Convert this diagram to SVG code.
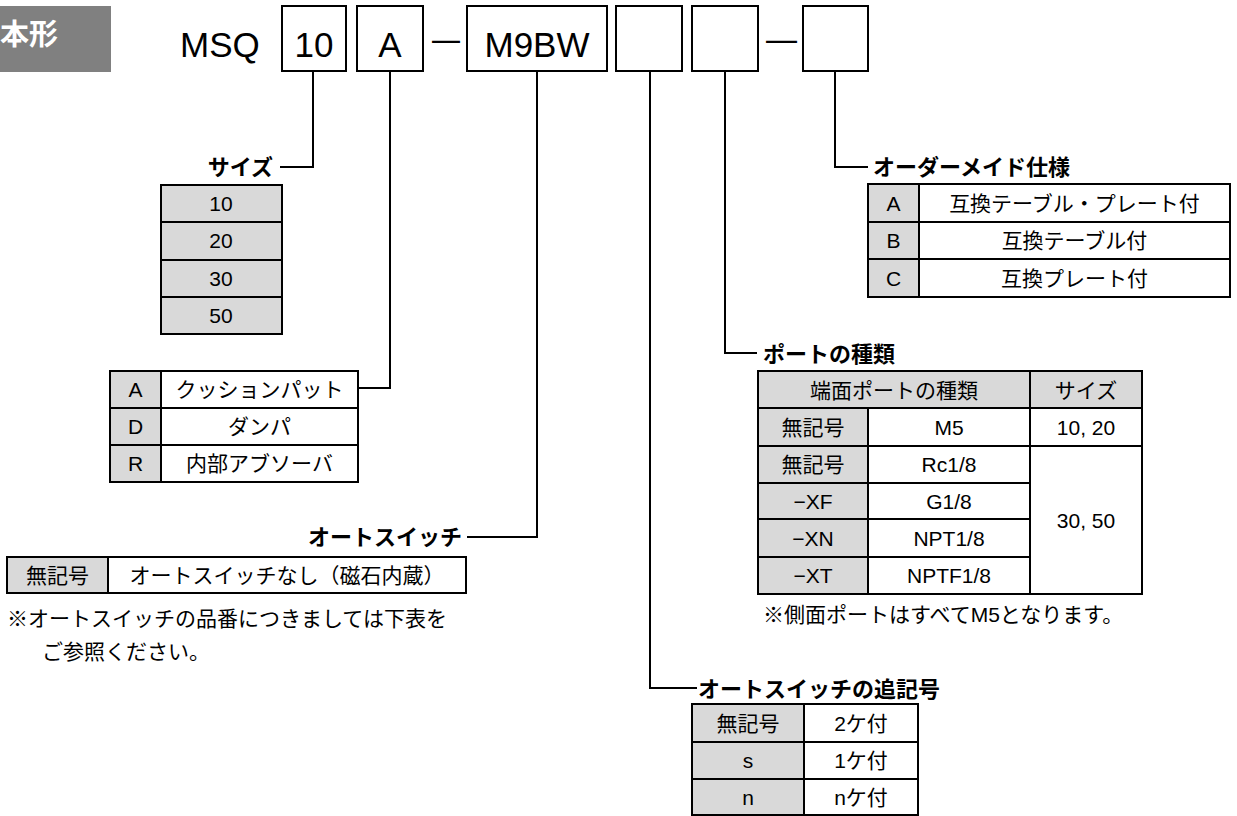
<svg xmlns="http://www.w3.org/2000/svg" width="1237" height="816" viewBox="0 0 1237 816">
<style>
  .bg{fill:#ffffff}
  .cell{fill:#ffffff;stroke:#000;stroke-width:2}
  .gc{fill:#d9d9d9;stroke:#000;stroke-width:2}
  .box{fill:#ffffff;stroke:#000;stroke-width:2}
  .t{font-family:"Liberation Sans","Noto Sans CJK JP",sans-serif;font-size:21px;fill:#000;text-anchor:middle}
  .tl{font-family:"Liberation Sans","Noto Sans CJK JP",sans-serif;font-size:21px;fill:#000}
  .lab{font-family:"Noto Sans CJK JP","Liberation Sans",sans-serif;font-size:22px;font-weight:bold;fill:#000}
  .code{font-family:"Liberation Sans","Noto Sans CJK JP",sans-serif;font-size:35px;fill:#000}
  .conn{fill:none;stroke:#000;stroke-width:2}
</style>
<rect class="bg" x="0" y="0" width="1237" height="816"/>

<g id="header">
  <rect x="0" y="6" width="111" height="66" fill="#808080"/>
  <text x="0" y="45" font-family="'Noto Sans CJK JP',sans-serif" font-size="29" font-weight="bold" fill="#ffffff">本形</text>
</g>

<g id="model-code">
  <text class="code" x="180" y="57">MSQ</text>
  <rect class="box" x="282" y="6" width="64" height="65"/>
  <text class="code" x="314" y="57" text-anchor="middle">10</text>
  <rect class="box" x="357" y="6" width="66" height="65"/>
  <text class="code" x="390" y="57" text-anchor="middle">A</text>
  <text class="code" x="432" y="51" textLength="28" lengthAdjust="spacingAndGlyphs" font-size="30">—</text>
  <rect class="box" x="467" y="6" width="140" height="65"/>
  <text class="code" x="537" y="57" text-anchor="middle">M9BW</text>
  <rect class="box" x="616" y="6" width="66" height="65"/>
  <rect class="box" x="692" y="6" width="66" height="65"/>
  <text class="code" x="766" y="51" textLength="31" lengthAdjust="spacingAndGlyphs" font-size="30">—</text>
  <rect class="box" x="803" y="6" width="65" height="65"/>
</g>

<g id="connectors">
  <polyline class="conn" points="313,71 313,167 280,167"/>
  <polyline class="conn" points="390,71 390,388 358,388"/>
  <polyline class="conn" points="537,71 537,537 467,537"/>
  <polyline class="conn" points="650,71 650,688 697,688"/>
  <polyline class="conn" points="725,71 725,353 757,353"/>
  <polyline class="conn" points="835,71 835,167 868,167"/>
</g>

<g id="node-size">
  <text class="lab" x="273" y="175" text-anchor="end">サイズ</text>
  <rect class="gc" x="161" y="185" width="121" height="37"/>
  <rect class="gc" x="161" y="222" width="121" height="38"/>
  <rect class="gc" x="161" y="260" width="121" height="37"/>
  <rect class="gc" x="161" y="297" width="121" height="37"/>
  <text class="t" x="221" y="211">10</text>
  <text class="t" x="221" y="248">20</text>
  <text class="t" x="221" y="286">30</text>
  <text class="t" x="221" y="323">50</text>
</g>

<g id="node-cushion">
  <rect class="gc" x="110" y="371" width="51" height="37"/>
  <rect class="cell" x="161" y="371" width="197" height="37"/>
  <rect class="gc" x="110" y="408" width="51" height="37"/>
  <rect class="cell" x="161" y="408" width="197" height="37"/>
  <rect class="gc" x="110" y="445" width="51" height="37"/>
  <rect class="cell" x="161" y="445" width="197" height="37"/>
  <text class="t" x="135.5" y="397">A</text>
  <text class="t" x="259.5" y="397">クッションパット</text>
  <text class="t" x="135.5" y="434">D</text>
  <text class="t" x="259.5" y="434">ダンパ</text>
  <text class="t" x="135.5" y="471">R</text>
  <text class="t" x="259.5" y="471">内部アブソーバ</text>
</g>

<g id="node-switch">
  <text class="lab" x="462" y="545" text-anchor="end">オートスイッチ</text>
  <rect class="gc" x="7" y="557" width="101" height="36"/>
  <rect class="cell" x="108" y="557" width="358" height="36"/>
  <text class="t" x="57.5" y="582.5">無記号</text>
  <text class="t" x="287" y="582.5">オートスイッチなし（磁石内蔵）</text>
  <text class="tl" x="7" y="626">※オートスイッチの品番につきましては下表を</text>
  <text class="tl" x="42" y="659">ご参照ください。</text>
</g>

<g id="node-order">
  <text class="lab" x="873" y="175">オーダーメイド仕様</text>
  <rect class="gc" x="868" y="184" width="51" height="38"/>
  <rect class="cell" x="919" y="184" width="311" height="38"/>
  <rect class="gc" x="868" y="222" width="51" height="37"/>
  <rect class="cell" x="919" y="222" width="311" height="37"/>
  <rect class="gc" x="868" y="259" width="51" height="38"/>
  <rect class="cell" x="919" y="259" width="311" height="38"/>
  <text class="t" x="893.5" y="210.5">A</text>
  <text class="t" x="1074.5" y="210.5">互換テーブル・プレート付</text>
  <text class="t" x="893.5" y="248">B</text>
  <text class="t" x="1074.5" y="248">互換テーブル付</text>
  <text class="t" x="893.5" y="285.5">C</text>
  <text class="t" x="1074.5" y="285.5">互換プレート付</text>
</g>

<g id="node-port">
  <text class="lab" x="763" y="362">ポートの種類</text>
  <rect class="gc" x="758" y="371" width="272" height="37"/>
  <rect class="gc" x="1030" y="371" width="112" height="37"/>
  <rect class="gc" x="758" y="408" width="110" height="38"/>
  <rect class="cell" x="868" y="408" width="162" height="38"/>
  <rect class="cell" x="1030" y="408" width="112" height="38"/>
  <rect class="gc" x="758" y="446" width="110" height="37"/>
  <rect class="cell" x="868" y="446" width="162" height="37"/>
  <rect class="gc" x="758" y="483" width="110" height="36"/>
  <rect class="cell" x="868" y="483" width="162" height="36"/>
  <rect class="gc" x="758" y="519" width="110" height="38"/>
  <rect class="cell" x="868" y="519" width="162" height="38"/>
  <rect class="gc" x="758" y="557" width="110" height="37"/>
  <rect class="cell" x="868" y="557" width="162" height="37"/>
  <rect class="cell" x="1030" y="446" width="112" height="148"/>
  <text class="t" x="894" y="397.5">端面ポートの種類</text>
  <text class="t" x="1086" y="397.5">サイズ</text>
  <text class="t" x="813" y="434.5">無記号</text>
  <text class="t" x="949" y="434.5">M5</text>
  <text class="t" x="1086" y="434.5">10, 20</text>
  <text class="t" x="813" y="472">無記号</text>
  <text class="t" x="949" y="472">Rc1/8</text>
  <text class="t" x="813" y="508.5">−XF</text>
  <text class="t" x="949" y="508.5">G1/8</text>
  <text class="t" x="813" y="545.5">−XN</text>
  <text class="t" x="949" y="545.5">NPT1/8</text>
  <text class="t" x="813" y="583">−XT</text>
  <text class="t" x="949" y="583">NPTF1/8</text>
  <text class="t" x="1086" y="527.5">30, 50</text>
  <text class="tl" x="763" y="622">※側面ポートはすべてM5となります。</text>
</g>

<g id="node-suffix">
  <text class="lab" x="698" y="697">オートスイッチの追記号</text>
  <rect class="gc" x="692" y="704" width="112" height="38"/>
  <rect class="cell" x="804" y="704" width="114" height="38"/>
  <rect class="gc" x="692" y="742" width="112" height="37"/>
  <rect class="cell" x="804" y="742" width="114" height="37"/>
  <rect class="gc" x="692" y="779" width="112" height="36"/>
  <rect class="cell" x="804" y="779" width="114" height="36"/>
  <text class="t" x="748" y="730.5">無記号</text>
  <text class="t" x="861" y="730.5">2ケ付</text>
  <text class="t" x="748" y="768">s</text>
  <text class="t" x="861" y="768">1ケ付</text>
  <text class="t" x="748" y="804.5">n</text>
  <text class="t" x="861" y="804.5">nケ付</text>
</g>
</svg>
